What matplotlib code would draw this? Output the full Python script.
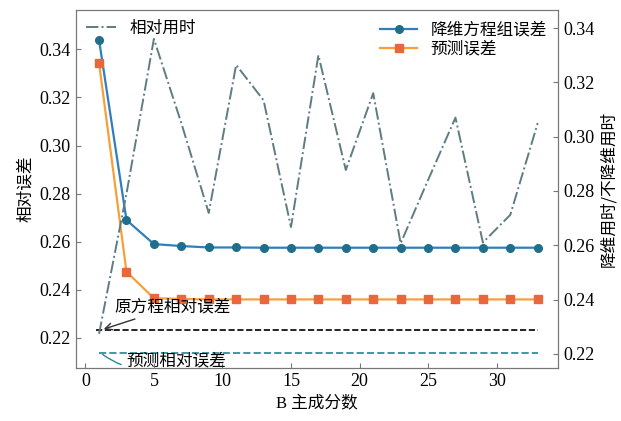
import matplotlib.pyplot as plt

plt.rcParams['font.family'] = ['Liberation Serif', 'Noto Sans CJK SC']
cjk = ['Noto Sans CJK SC', 'DejaVu Sans']
mixed = ['Liberation Serif', 'Noto Sans CJK SC']

n_components = [1, 3, 5, 7, 9, 11, 13, 15, 17, 19, 21, 23, 25, 27, 29, 31, 33]
reduced_error = [0.3438, 0.269, 0.259, 0.2582, 0.2576, 0.2576, 0.2575, 0.2575, 0.2575,
                 0.2575, 0.2575, 0.2575, 0.2575, 0.2575, 0.2575, 0.2575, 0.2575]
pred_error = [0.3342, 0.2475, 0.2365, 0.2362, 0.236, 0.236, 0.236, 0.236, 0.236,
              0.236, 0.236, 0.236, 0.236, 0.236, 0.236, 0.236, 0.236]
time_ratio = [0.2274, 0.279, 0.336, 0.305, 0.2719, 0.3264, 0.3134, 0.2667, 0.330,
              0.2877, 0.316, 0.2607, 0.284, 0.307, 0.261, 0.2712, 0.305]
orig_error = 0.2233
orig_pred_error = 0.2138

fig, ax = plt.subplots(figsize=(6.21, 4.21), dpi=100)
fig.subplots_adjust(left=0.122, right=0.899, bottom=0.126, top=0.976)
ax2 = ax.twinx()

l1, = ax.plot(n_components, reduced_error, '-o', color='#2f7fbf', markerfacecolor='#1f6f8b',
              markeredgecolor='#1f6f8b', markersize=5.5, linewidth=1.6, label='降维方程组误差')
l2, = ax.plot(n_components, pred_error, '-s', color='#f5a03a', markerfacecolor='#e8673c',
              markeredgecolor='#e8673c', markersize=5.5, linewidth=1.6, label='预测误差')
ax.hlines(orig_error, 0.8, 33, colors='black', linestyles='--', linewidth=1.2)
ax.hlines(orig_pred_error, 1.0, 33, colors='#3a9aa5', linestyles='--', linewidth=1.4)

l3, = ax2.plot(n_components, time_ratio, linestyle='-.', color='#5e7c82', linewidth=1.4,
               label='相对用时')

ax.annotate('原方程相对误差', xy=(1.15, orig_error), xytext=(2.1, 0.2329),
            fontsize=12, family=cjk, va='center',
            arrowprops=dict(arrowstyle='->', color='#333333', lw=1.0))
ax.annotate('预测相对误差', xy=(1.1, orig_pred_error), xytext=(3.0, 0.2102),
            fontsize=12, family=cjk, va='center',
            arrowprops=dict(arrowstyle='-', color='#2a8a95', lw=1.0,
                            connectionstyle='arc3,rad=-0.3'))

ax.set_xlim(-0.7, 34.5)
ax.set_ylim(0.2075, 0.3563)
ax2.set_ylim(0.2148, 0.3466)
ax.set_xticks([0, 5, 10, 15, 20, 25, 30])
ax.set_yticks([0.22, 0.24, 0.26, 0.28, 0.30, 0.32, 0.34])
ax2.set_yticks([0.22, 0.24, 0.26, 0.28, 0.30, 0.32, 0.34])
ax.yaxis.set_major_formatter(plt.FormatStrFormatter('%.2f'))
ax2.yaxis.set_major_formatter(plt.FormatStrFormatter('%.2f'))

for a in (ax, ax2):
    a.tick_params(direction='in', labelsize=13, color='#777777')
    for s in a.spines.values():
        s.set_color('#777777')

ax.set_xlabel('B 主成分数', fontsize=12, family=mixed)
ax.set_ylabel('相对误差', fontsize=12, family=cjk)
ax2.set_ylabel('降维用时/不降维用时', fontsize=12, family=cjk)

leg1 = ax2.legend(handles=[l3], loc='upper left', frameon=False, prop={'family': cjk, 'size': 12},
                  borderaxespad=0.2, handlelength=1.8)
ax2.add_artist(leg1)
ax2.legend(handles=[l1, l2], loc='upper right', frameon=False, prop={'family': cjk, 'size': 12},
           borderaxespad=0.3, handlelength=2.2, labelspacing=0.1)

fig.savefig('out.png', dpi=100)
